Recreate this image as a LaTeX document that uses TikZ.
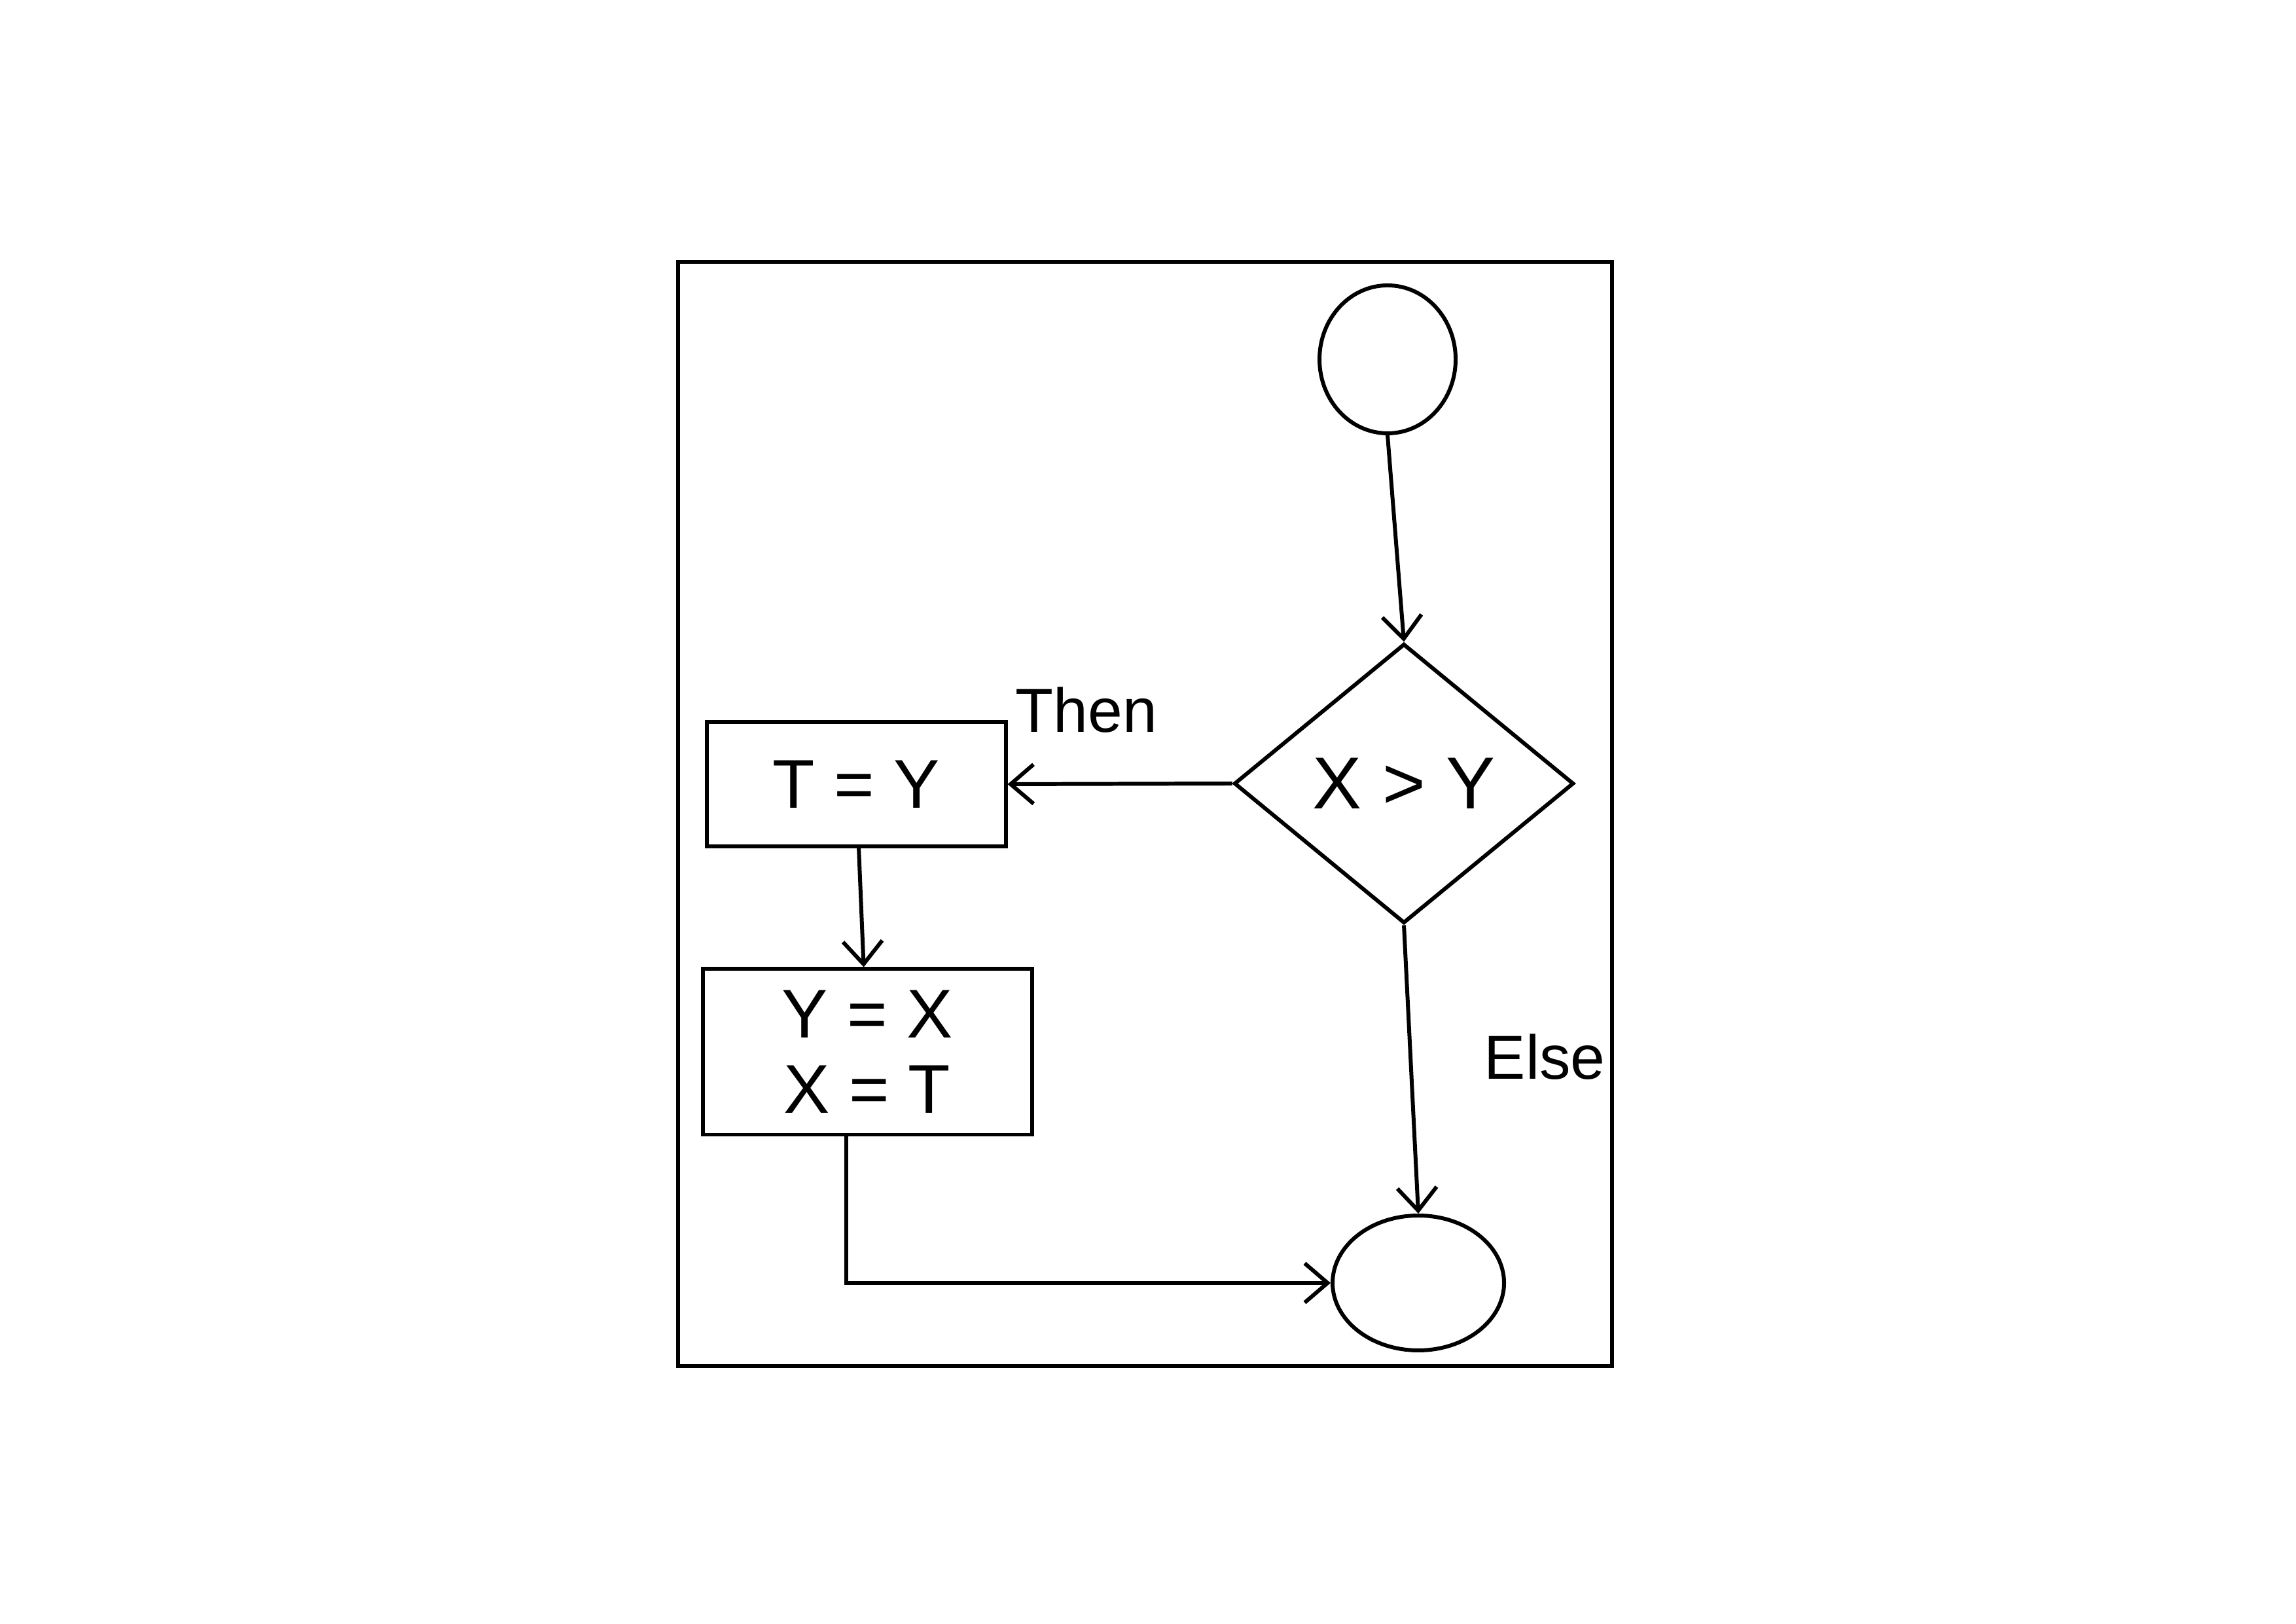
\documentclass[tikz,border=0pt]{standalone}
\usepackage{fontspec}
\setsansfont{Liberation Sans}
\usepackage{tikz}
\usetikzlibrary{arrows.meta,calc,shapes.geometric}

\begin{document}
\begin{tikzpicture}[
  term/.style={draw,ellipse,line width=1.7pt,inner sep=0pt},
  test/.style={draw,diamond,line width=1.7pt,inner sep=0pt,minimum width=5.19cm,minimum height=4.27cm,font=\sffamily\fontsize{32}{38}\selectfont},
  act/.style={draw,line width=1.7pt,align=center,font=\sffamily\fontsize{30}{30}\selectfont},
  lbl/.style={font=\sffamily\fontsize{27}{30}\selectfont},
  arr/.style={-{Straight Barb[length=3.5mm,width=6mm]},line width=1.7pt}
]
\useasboundingbox (0,0) rectangle (35.08,24.80);
\draw[line width=1.7pt] (10.36,3.93) rectangle (24.63,20.80);

\node[term,minimum width=2.08cm,minimum height=2.26cm] (start) at (21.20,19.31) {};
\node[test] (cmp) at (21.45,12.83) {X > Y};
\node[act,minimum width=4.57cm,minimum height=1.90cm] (tset) at (13.08,12.82) {T = Y};
\node[act,minimum width=5.03cm,minimum height=2.53cm] (swap) at (13.25,8.73) {Y = X\\[0.1cm]X = T};
\node[term,minimum width=2.62cm,minimum height=2.06cm] (stop) at (21.67,5.20) {};

\node[lbl] (then) at (16.60,13.95) {Then};
\node[lbl] (else) at (23.60,8.65) {Else};

\draw[arr] (start.south) -- (cmp.north);
\draw[arr] (cmp.west) -- (tset.east);
\draw[arr] (tset) -- (swap);
\draw[arr] (cmp.south) -- (stop.north);
\draw[arr] ($(swap.south)+(-0.32,0)$) |- (stop.west);
\end{tikzpicture}
\end{document}
